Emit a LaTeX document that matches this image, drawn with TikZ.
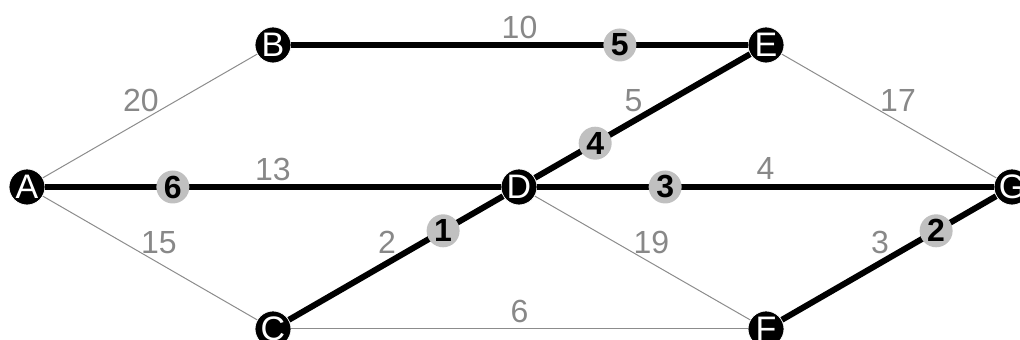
\documentclass[tikz,border=0pt]{standalone}
\usepackage{fontspec}
\setmainfont{Liberation Sans}
\usetikzlibrary{calc}
\definecolor{edgegrey}{RGB}{140,140,140}
\definecolor{labelgrey}{RGB}{136,136,136}
\definecolor{dotgrey}{RGB}{192,192,192}
\tikzset{
  vertex/.style={circle,fill=black,draw=white,thin,text=white,
    minimum size=18pt,inner sep=0pt,font=\fontsize{17}{18}\selectfont},
  otheredge/.style={draw=edgegrey,line width=0.5pt},
  treeedge/.style={draw=black,line width=3pt},
  weight/.style={text=labelgrey,inner sep=0pt,font=\fontsize{16}{18}\selectfont},
  orderdot/.style={circle,fill=dotgrey,minimum size=16.5pt,inner sep=0pt,
    font=\bfseries\fontsize{16}{18}\selectfont}
}

\begin{document}
\begin{tikzpicture}[x=0.5pt,y=0.5pt]
  \useasboundingbox (0,0) rectangle (1020,340);
  \node[vertex] (a) at (27,153) {A};
  \node[vertex] (b) at (273,295) {B};
  \node[vertex] (c) at (273,11) {C};
  \node[vertex] (d) at (519,153) {D};
  \node[vertex] (e) at (766,295) {E};
  \node[vertex] (f) at (766,11) {F};
  \node[vertex] (g) at (1012,153) {G};
  % edges left out of the tree
  \foreach \u/\v/\w in {a/b/20,a/c/15,c/f/6,d/f/19,e/g/17}
    \draw[otheredge] (\u) -- (\v)
      node[weight] at ($(\u)!0.5!(\v)!9pt!90:(\v)$) {\w};
  % tree edges, with the order they were picked in
  \foreach \u/\v/\w/\p/\k in {a/d/13/0.28/6,b/e/10/0.72/5,d/e/5/0.28/4,
      d/g/4/0.28/3,f/g/3/0.72/2,c/d/2/0.72/1}
    \draw[treeedge] (\u) -- node[orderdot,pos=\p] {\k} (\v)
      node[weight] at ($(\u)!0.5!(\v)!9pt!90:(\v)$) {\w};
\end{tikzpicture}
\end{document}
